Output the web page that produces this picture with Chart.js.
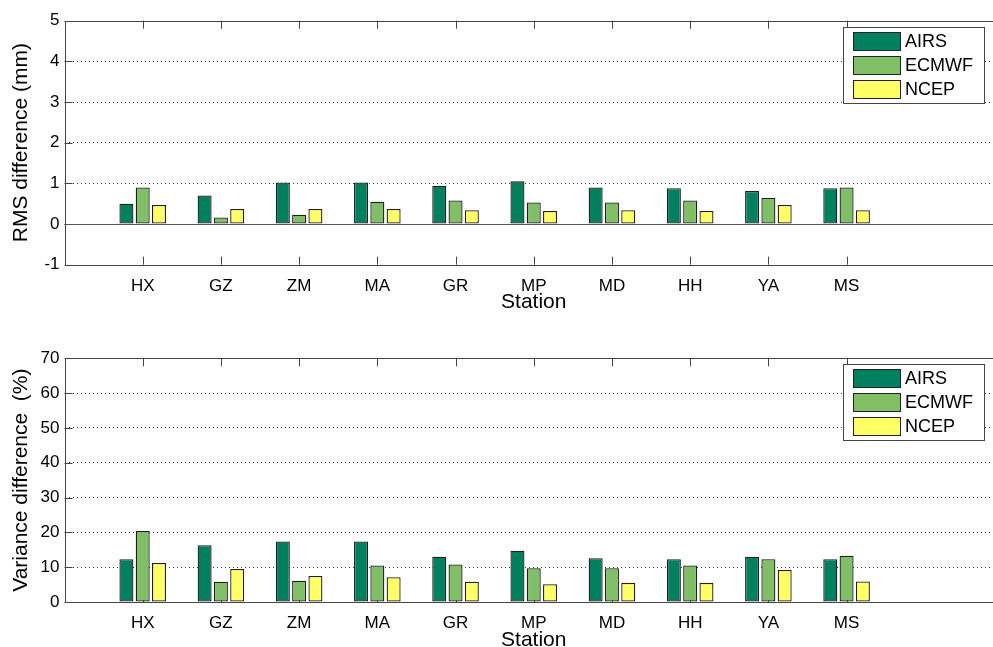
<!DOCTYPE html>
<html>
<head>
<meta charset="utf-8">
<script src="https://cdn.jsdelivr.net/npm/chart.js@4"></script>
<style>
  html, body { margin: 0; padding: 0; background: #fff; overflow: hidden; width: 993px; height: 647px; }
  .box { position: absolute; left: 0; width: 1012px; }
</style>
</head>
<body>
<div class="box" style="top:0;height:320px"><canvas id="rms"></canvas></div>
<div class="box" style="top:330px;height:340px"><canvas id="variance"></canvas></div>
<script>
const stations = ['HX', 'GZ', 'ZM', 'MA', 'GR', 'MP', 'MD', 'HH', 'YA', 'MS'];
const seriesNames = ['AIRS', 'ECMWF', 'NCEP'];
const seriesColors = ['#00805f', '#80bf66', '#ffff66'];

// RMS difference (mm)
const rmsAirs  = [0.50, 0.70, 1.02, 1.02, 0.94, 1.05, 0.90, 0.88, 0.81, 0.88];
const rmsEcmwf = [0.90, 0.16, 0.23, 0.55, 0.58, 0.53, 0.53, 0.58, 0.64, 0.90];
const rmsNcep  = [0.47, 0.37, 0.37, 0.37, 0.34, 0.32, 0.34, 0.32, 0.47, 0.34];
const rmsTicks = [-1, 0, 1, 2, 3, 4, 5];

// Variance difference (%)
const varAirs  = [12.3, 16.3, 17.4, 17.4, 13.0, 14.7, 12.6, 12.3, 13.0, 12.3];
const varEcmwf = [20.4, 5.8, 6.1, 10.5, 10.8, 9.7, 9.7, 10.5, 12.3, 13.3];
const varNcep  = [11.2, 9.5, 7.5, 7.1, 5.8, 5.1, 5.5, 5.5, 9.2, 5.9];
const varTicks = [0, 10, 20, 30, 40, 50, 60, 70];

const font = '"Liberation Sans", Arial, Helvetica, sans-serif';

const matlabFrame = {
  id: 'matlabFrame',
  beforeDatasetsDraw(chart) {
    const { ctx, chartArea: a, scales: { x, y } } = chart;
    ctx.save();
    ctx.strokeStyle = '#444';
    ctx.lineWidth = 1;
    ctx.beginPath();
    stations.forEach((s, i) => {
      const px = Math.round(x.getPixelForValue(i + 1)) + 0.5;
      ctx.moveTo(px, a.bottom); ctx.lineTo(px, a.bottom - 8);
      ctx.moveTo(px, a.top); ctx.lineTo(px, a.top + 8);
    });
    y.ticks.forEach(t => {
      const py = Math.round(y.getPixelForValue(t.value)) + 0.5;
      ctx.moveTo(a.left, py); ctx.lineTo(a.left + 8, py);
    });
    ctx.stroke();
    if (y.min < 0) {
      const y0 = Math.round(y.getPixelForValue(0)) + 0.5;
      ctx.strokeStyle = '#555';
      ctx.beginPath();
      ctx.moveTo(a.left, y0);
      ctx.lineTo(a.right, y0);
      ctx.stroke();
    }
    ctx.restore();
  },
  afterDraw(chart) {
    const { ctx, chartArea: a } = chart;
    ctx.save();
    ctx.strokeStyle = '#444';
    ctx.lineWidth = 1;
    ctx.strokeRect(Math.round(a.left) + 0.5, Math.round(a.top) + 0.5, a.right - a.left, Math.round(a.bottom - a.top));

    // legend box in the upper right
    const bx = 843, bw = 141, by = Math.round(a.top) + 6, bh = 76;
    ctx.fillStyle = '#fff';
    ctx.fillRect(bx, by, bw, bh);
    ctx.strokeStyle = '#444';
    ctx.strokeRect(bx + 0.5, by + 0.5, bw, bh);
    ctx.font = '18px ' + font;
    ctx.textBaseline = 'middle';
    chart.data.datasets.forEach((ds, i) => {
      const cy = by + 14 + i * 24;
      ctx.fillStyle = ds.backgroundColor;
      ctx.fillRect(bx + 10, cy - 9, 47, 18);
      ctx.strokeStyle = '#222';
      ctx.strokeRect(bx + 10.5, cy - 8.5, 47, 18);
      ctx.fillStyle = '#000';
      ctx.fillText(ds.label, bx + 62, cy + 1);
    });
    ctx.restore();
  }
};

function makeChart(id, values, yMin, yMax, yTicks, yTitle, padTop, xHeight, xTitlePad) {
  new Chart(document.getElementById(id), {
    type: 'bar',
    data: {
      datasets: values.map((vals, k) => ({
        label: seriesNames[k],
        data: vals.map((v, i) => ({ x: i + 1, y: v })),
        backgroundColor: seriesColors[k],
        borderColor: '#1e1e1e',
        borderWidth: 1.3,
        borderSkipped: false,
        categoryPercentage: 0.625,
        barPercentage: 0.86
      }))
    },
    options: {
      responsive: true,
      maintainAspectRatio: false,
      animation: false,
      layout: { padding: { top: padTop, right: 9, left: 0, bottom: 0 } },
      plugins: { legend: { display: false }, tooltip: { enabled: false } },
      scales: {
        x: {
          type: 'linear',
          offset: false,
          min: 0,
          max: 12,
          afterBuildTicks: s => { s.ticks = stations.map((n, i) => ({ value: i + 1 })); },
          afterFit: s => { s.height = xHeight; },
          ticks: {
            autoSkip: false,
            maxRotation: 0,
            padding: 3,
            color: '#000',
            font: { family: font, size: 17 },
            callback: v => stations[v - 1] || ''
          },
          grid: { display: false, offset: false },
          border: { display: false },
          title: {
            display: true,
            text: 'Station',
            color: '#000',
            font: { family: font, size: 21 },
            padding: { top: 0, bottom: xTitlePad }
          }
        },
        y: {
          min: yMin,
          max: yMax,
          afterBuildTicks: s => { s.ticks = yTicks.map(v => ({ value: v })); },
          afterFit: s => { s.width = 64.5; },
          ticks: {
            padding: 5,
            color: '#000',
            font: { family: font, size: 17 }
          },
          grid: {
            drawTicks: false,
            lineWidth: 1,
            color: c => (c.tick && c.tick.value > yMin && c.tick.value < yMax && c.tick.value !== 0) ? '#333' : 'rgba(0,0,0,0)'
          },
          border: { display: false, dash: [1, 3] },
          title: {
            display: true,
            text: yTitle,
            color: '#000',
            font: { family: font, size: 21 },
            padding: { top: 9, bottom: 0 }
          }
        }
      }
    },
    plugins: [matlabFrame]
  });
}

makeChart('rms', [rmsAirs, rmsEcmwf, rmsNcep], -1, 5, rmsTicks, 'RMS difference (mm)', 20.7, 55.3, 5.4);
makeChart('variance', [varAirs, varEcmwf, varNcep], 0, 70, varTicks, 'Variance difference  (%)', 28.3, 68, 17.4);
</script>
</body>
</html>
